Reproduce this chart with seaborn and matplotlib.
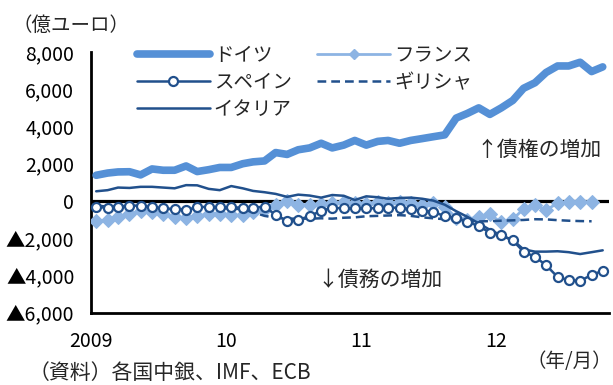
import numpy as np
import pandas as pd
import matplotlib
matplotlib.use("Agg")
import matplotlib.pyplot as plt
import seaborn as sns
from matplotlib.ticker import FixedLocator, FixedFormatter
from matplotlib.lines import Line2D

# ---- data (億ユーロ), monthly from 2009-01 ----
germany = [1380, 1500, 1560, 1570, 1400, 1720, 1650, 1650, 1880, 1580, 1680, 1800,
           1800, 2000, 2100, 2150, 2600, 2500, 2750, 2850, 3100, 2850, 3000, 3250,
           3000, 3200, 3250, 3100, 3250, 3350, 3450, 3550, 4450, 4700, 5000, 4650,
           5000, 5400, 6050, 6350, 6900, 7250, 7250, 7450, 6950, 7200]
spain = [-330, -360, -330, -250, -250, -330, -400, -450, -470, -350, -300, -340,
         -340, -360, -360, -300, -750, -1060, -1030, -800, -540, -360, -400, -390,
         -390, -390, -360, -360, -450, -520, -575, -820, -900, -1110, -1350, -1700,
         -1850, -2120, -2720, -3000, -3450, -4080, -4250, -4290, -3970, -3750]
italy = [520, 580, 720, 700, 760, 760, 720, 680, 850, 840, 650, 580,
         800, 680, 540, 470, 380, 220, 340, 290, 180, 320, 280, 50,
         250, 200, 120, 160, 180, 120, 20, -200, -550, -850, -1200, -1550,
         -1850, -2100, -2600, -2720, -2720, -2700, -2750, -2850, -2750, -2650]
france = [-1100, -1000, -850, -700, -560, -600, -700, -850, -900, -800, -720, -680,
          -750, -780, -600, -450, -215, 0, -215, -200, -160, -125, -50, -125,
          -160, -50, -125, -50, -125, -215, -100, -300, -900, -1000, -840, -720,
          -1150, -980, -430, -215, -480, -125, -40, -70, -30]
greece = [-250, -300, -300, -250, -300, -350, -400, -450, -450, -400, -350, -400,
          -400, -450, -600, -800, -900, -950, -950, -950, -930, -950, -900, -880,
          -820, -800, -780, -760, -800, -880, -930, -980, -1050, -1100, -1100, -1080,
          -1060, -1040, -1020, -980, -990, -1030, -1060, -1080, -1090]

names = ["ドイツ", "フランス", "スペイン", "ギリシャ", "イタリア"]
y_ticks = [8000, 6000, 4000, 2000, 0, -2000, -4000, -6000]
y_labels = ["8,000", "6,000", "4,000", "2,000", "0", "▲2,000", "▲4,000", "▲6,000"]
x_tick_dates = ["2009-01-01", "2010-01-01", "2011-01-01", "2012-01-01"]
x_labels = ["2009", "10", "11", "12"]

months = pd.date_range("2009-01-01", periods=len(germany), freq="MS") + pd.Timedelta(days=14)

def frame(vals):
    return pd.DataFrame({"date": months[:len(vals)], "value": vals})

sns.set_theme(style="white")
plt.rcParams["font.family"] = ["Noto Sans CJK JP", "DejaVu Sans"]
plt.rcParams["xtick.major.pad"] = 9
plt.rcParams["ytick.major.pad"] = 8

FS_TICK = 14
FS_LEG = 14
FS_ANN = 15
c_de = "#5590d6"
c_fr = "#8db4e3"
c_dark = "#21508c"

fig = plt.figure(figsize=(6.13, 3.85), dpi=100)
ax = fig.add_axes([91/613, 1 - 312.7/385, (609-91)/613, (312.7-52)/385])

ax.axhline(0, color="black", lw=2.3, zorder=1)

sns.lineplot(data=frame(france), x="date", y="value", ax=ax, color=c_fr, lw=2.0,
             marker="D", markersize=7, markeredgecolor=c_fr, zorder=3)
sns.lineplot(data=frame(greece), x="date", y="value", ax=ax, color=c_dark, lw=1.8,
             linestyle=(0, (3.5, 2)), zorder=3)
sns.lineplot(data=frame(italy), x="date", y="value", ax=ax, color=c_dark, lw=1.8, zorder=4)
sns.lineplot(data=frame(spain), x="date", y="value", ax=ax, color=c_dark, lw=1.8,
             marker="o", markersize=6.5, markerfacecolor="white",
             markeredgecolor=c_dark, markeredgewidth=1.6, zorder=5)
sns.lineplot(data=frame(germany), x="date", y="value", ax=ax, color=c_de, lw=5.5,
             zorder=6)

ax.set_ylim(-6000, 8000)
ax.set_xlim(pd.Timestamp("2009-01-01"), pd.Timestamp("2012-11-01"))
ax.yaxis.set_major_locator(FixedLocator(y_ticks))
ax.yaxis.set_major_formatter(FixedFormatter(y_labels))
xt = [matplotlib.dates.date2num(pd.Timestamp(d)) for d in x_tick_dates]
ax.xaxis.set_major_locator(FixedLocator(xt))
ax.xaxis.set_major_formatter(FixedFormatter(x_labels))
ax.set_xlabel("")
ax.set_ylabel("")

for s in ["top", "right"]:
    ax.spines[s].set_visible(False)
for s in ["left", "bottom"]:
    ax.spines[s].set_color("black")
    ax.spines[s].set_linewidth(2.0)
ax.tick_params(axis="both", which="major", direction="out", length=4, width=1.5,
               color="black", labelsize=FS_TICK, labelcolor="black")
ax.tick_params(axis="y", pad=8)
ax.tick_params(axis="x", pad=9)
ax.grid(False)

handles = [
    Line2D([], [], color=c_de, lw=5.5, solid_capstyle="round"),
    Line2D([], [], color=c_dark, lw=1.8, marker="o", markersize=6.5,
           markerfacecolor="white", markeredgecolor=c_dark, markeredgewidth=1.6),
    Line2D([], [], color=c_dark, lw=1.8),
    Line2D([], [], color=c_fr, lw=2.0, marker="D", markersize=5, markeredgecolor=c_fr),
    Line2D([], [], color=c_dark, lw=1.8, linestyle=(0, (3.5, 2))),
]
labels = [names[0], names[2], names[4], names[1], names[3]]
leg = ax.legend(handles, labels, ncol=2, loc="upper left",
                bbox_to_anchor=(137/613, 1 - 45/385), bbox_transform=fig.transFigure,
                frameon=False, fontsize=FS_LEG, handlelength=3.75, handletextpad=0.2,
                columnspacing=1.3, labelspacing=0.3, borderpad=0, borderaxespad=0)

fig.text(12/613, 1 - 25/385, "（億ユーロ）", fontsize=FS_LEG, va="center", ha="left")
fig.text(476/613, 1 - 150/385, "↑債権の増加", fontsize=FS_ANN, va="center", ha="left")
fig.text(317/613, 1 - 280/385, "↓債務の増加", fontsize=FS_ANN, va="center", ha="left")
fig.text(612/613, 1 - 361/385, "（年/月）", fontsize=FS_LEG, va="center", ha="right")
fig.text(29/613, 1 - 373/385, "（資料）各国中銀、IMF、ECB", fontsize=FS_ANN, va="center", ha="left")

fig.savefig("out.png", dpi=100)
